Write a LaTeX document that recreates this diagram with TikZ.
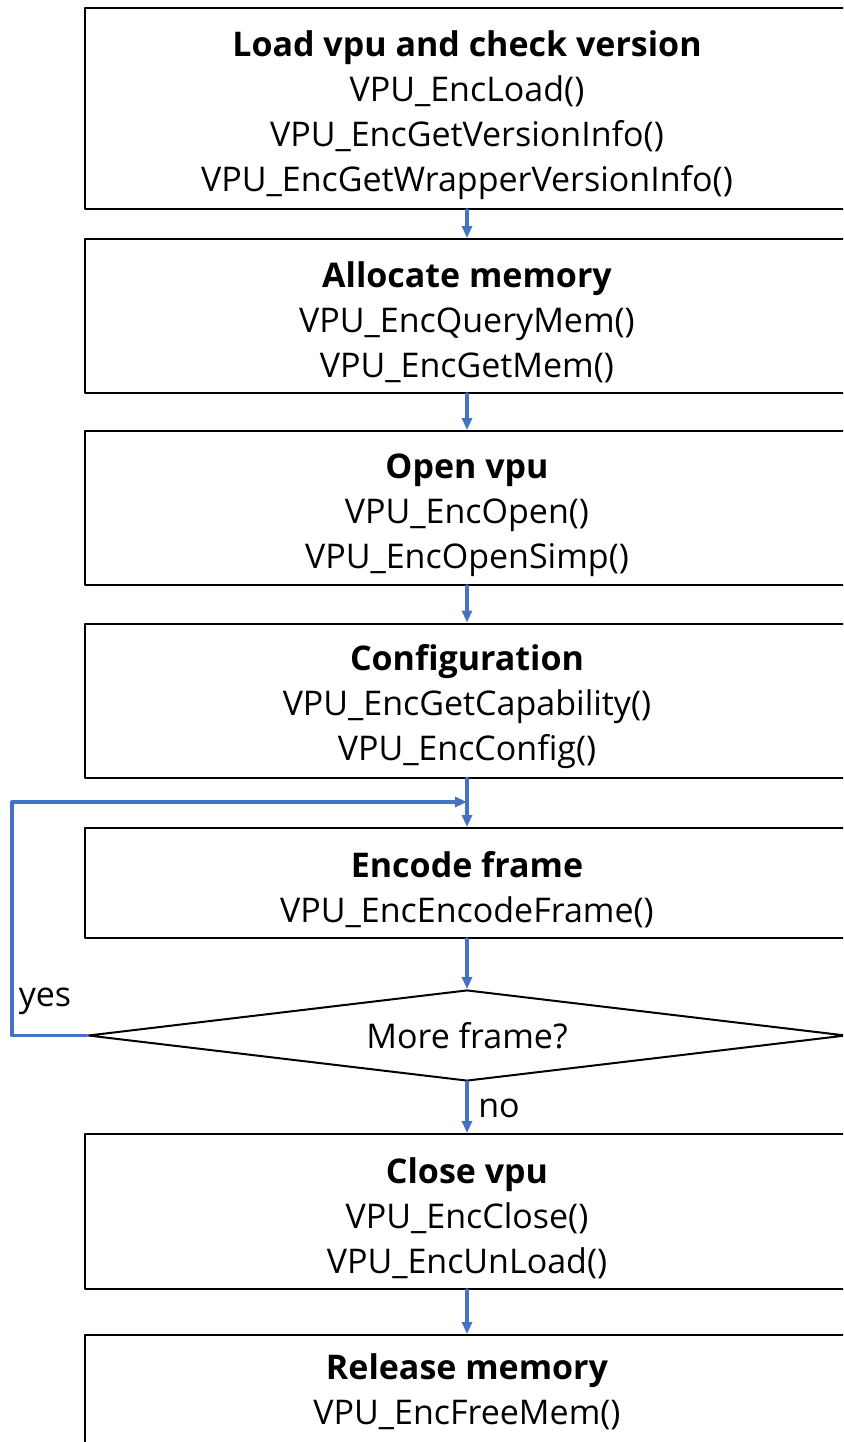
\documentclass[tikz,border=0pt]{standalone}
\usepackage{fontspec}
\setmainfont{Open Sans}
\usetikzlibrary{arrows.meta,shapes.geometric}
\definecolor{flowblue}{HTML}{4472C4}
\newcommand\steptitle[1]{\rule{0pt}{29pt}\textbf{#1}}
\tikzset{
  box/.style={draw,line width=1.5pt,minimum width=573pt,inner sep=0pt,align=center,
    font=\fontsize{25.5}{33.75}\selectfont},
  decision/.style={draw,diamond,line width=1.5pt,minimum width=568.5pt,minimum height=68.25pt,
    aspect=8.3,inner sep=0pt,font=\fontsize{25.5}{33.75}\selectfont},
  flow/.style={draw=flowblue,line width=2.5pt,-{Triangle[length=9pt,width=7.5pt]}},
  lbl/.style={font=\fontsize{25.5}{30}\selectfont,inner sep=0pt}
}
\begin{document}
\begin{tikzpicture}[x=0.75pt,y=-0.75pt,line cap=round,line join=round]
  \useasboundingbox (0,0) rectangle (843,1442);
  \clip (0,0) rectangle (843,1442);
  \node[box,minimum height=150.75pt] (load) at (467,108.5)
    {\steptitle{Load vpu and check version}\\VPU\_EncLoad()\\VPU\_EncGetVersionInfo()\\VPU\_EncGetWrapperVersionInfo()};
  \node[box,minimum height=115.5pt] (alloc) at (467,316)
    {\steptitle{Allocate memory}\\VPU\_EncQueryMem()\\VPU\_EncGetMem()};
  \node[box,minimum height=115.5pt] (open) at (467,508)
    {\steptitle{Open vpu}\\VPU\_EncOpen()\\VPU\_EncOpenSimp()};
  \node[box,minimum height=115.5pt] (config) at (467,700.5)
    {\steptitle{Configuration}\\VPU\_EncGetCapability()\\VPU\_EncConfig()};
  \node[box,minimum height=82.5pt] (encode) at (467,883)
    {\steptitle{Encode frame}\\VPU\_EncEncodeFrame()};
  \node[decision] (more) at (467,1035.5) {More frame?};
  \node[box,minimum height=116.25pt] (close) at (467,1211.5)
    {\steptitle{Close vpu}\\VPU\_EncClose()\\VPU\_EncUnLoad()};
  \node[box,minimum height=115.5pt] (release) at (467,1412)
    {\steptitle{Release memory}\\VPU\_EncFreeMem()\\\strut};
  \coordinate (join) at (467,802);
  \coordinate (loopleft) at (12,1035.5);
  \draw[flow] (load) -- (alloc);
  \draw[flow] (alloc) -- (open);
  \draw[flow] (open) -- (config);
  \draw[flow] (config) -- (encode);
  \draw[flow] (encode) -- (more);
  \draw[flow] (more) -- (close);
  \draw[flow] (close) -- (release);
  \draw[flow] (more.west) -- (loopleft) |- (join);
  \node[lbl] (yes) at (45,1001) {yes};
  \node[lbl] (no) at (499,1108) {no};
\end{tikzpicture}
\end{document}
